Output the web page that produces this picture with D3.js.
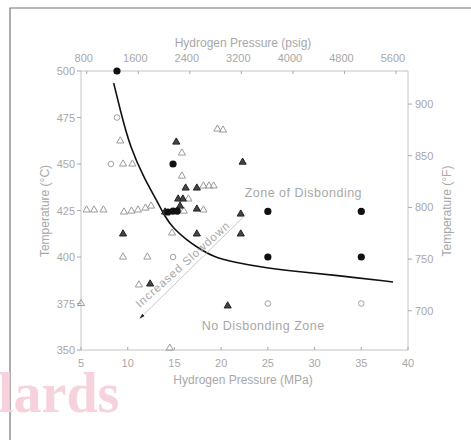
<!DOCTYPE html>
<meta charset="utf-8">
<html>
<head>
  <style>
    body { margin: 0; background: #fff; }
    text { font-family: "Liberation Sans", "DejaVu Sans", sans-serif; }
  </style>
</head>
<body>
  <svg id="chart" width="471" height="440"></svg>

  <script src="https://d3js.org/d3.v7.min.js"></script>
  <script>

    // ticks
    var mpaTicks = [5, 10, 15, 20, 25, 30, 35, 40]
    var psigTicks = [800, 1600, 2400, 3200, 4000, 4800, 5600]
    var degCTicks = [350, 375, 400, 425, 450, 475, 500]
    var degFTicks = [700, 750, 800, 850, 900]

    // test points [MPa, degC]
    var filledCircles = [[8.85, 500], [14.85, 450], [14.3, 424.2], [14.85, 424.7], [15.3, 424.7],
      [25, 424.5], [35, 424.5], [25, 400], [35, 400]]
    var openCircles = [[8.85, 475], [8.2, 450], [14.85, 400], [25, 375], [35, 375]]
    var filledTriangles = [[15.2, 461.8], [16.2, 437.1], [15.4, 431.2], [15.9, 431.2], [15.6, 427.4],
      [17.4, 425.8], [14.0, 424.2], [22.3, 451], [22.1, 423.1], [22.1, 412.4], [17.4, 412.4],
      [9.5, 412.4], [20.7, 373.7], [12.4, 385.5], [17.4, 437.1]]
    var openTriangles = [[9.2, 462.4], [9.5, 450], [10.5, 450], [19.6, 468.8], [20.2, 468.3],
      [15.8, 455.9], [15.8, 443.5], [18.1, 438.2], [18.7, 438.2], [19.2, 438.2], [16.5, 431.2],
      [18.1, 425.3], [5.6, 425.3], [6.4, 425.3], [7.4, 425.3], [9.6, 424.2], [10.4, 424.7],
      [11.1, 425.3], [11.9, 426.3], [12.5, 427.4], [16.0, 424.7], [14.75, 412.9], [9.5, 400],
      [12.1, 400], [11.2, 385], [5, 375], [14.5, 351]]

    // disbonding boundary curve
    var curve = [[8.5, 493.5], [9.2, 479], [10.25, 459], [11.85, 441.4], [13.1, 430.6], [14.0, 421.5],
      [14.85, 415.6], [16.35, 409], [17.4, 405.4], [19.1, 400.2], [21.3, 397.2], [24.9, 394],
      [28.45, 392], [32.0, 390.3], [38.4, 386.6]]

    var svg = d3.select("#chart")
    var grey = "#a8a8a8"

    var x = d3.scaleLinear().domain([5, 40]).range([81, 408])
    var y = d3.scaleLinear().domain([350, 500]).range([350, 71])
    var psigToMPa = function (p) { return (p + 14.7) * 0.00689476 }
    var fToC = function (f) { return (f - 32) * 5 / 9 }

    // scan frame
    svg.append("path").attr("d", "M10,440 V8 H471")
      .attr("fill", "none").attr("stroke", "#777").attr("stroke-width", 1.2)

    // watermark
    svg.append("text").attr("x", -2).attr("y", 412)
      .style("font-family", "'Liberation Serif', serif").style("font-weight", "bold")
      .style("font-size", "56px").style("fill", "#f6d3dc").text("lards")

    // axes
    var axisLine = function (x1, y1, x2, y2) {
      svg.append("line").attr("x1", x1).attr("y1", y1).attr("x2", x2).attr("y2", y2)
        .attr("stroke", "#c4c4c4").attr("stroke-width", 1)
    }
    axisLine(x(5), y(350), x(40), y(350))
    axisLine(x(5), y(500), x(40), y(500))
    axisLine(x(5), y(350), x(5), y(500))
    axisLine(x(40), y(350), x(40), y(500))

    // bottom ticks
    svg.selectAll("bt").data(mpaTicks).enter().append("line")
      .attr("x1", function (d) { return x(d) }).attr("x2", function (d) { return x(d) })
      .attr("y1", y(350)).attr("y2", y(350) - 3).attr("stroke", grey)
    svg.selectAll("bl").data(mpaTicks).enter().append("text")
      .attr("x", function (d) { return x(d) }).attr("y", y(350) + 17)
      .attr("text-anchor", "middle").style("font-size", "11px").style("fill", grey)
      .text(function (d) { return d })

    // top ticks
    svg.selectAll("tt").data(psigTicks).enter().append("line")
      .attr("x1", function (d) { return x(psigToMPa(d)) }).attr("x2", function (d) { return x(psigToMPa(d)) })
      .attr("y1", y(500)).attr("y2", y(500) + 3).attr("stroke", grey)
    svg.selectAll("tl").data(psigTicks).enter().append("text")
      .attr("x", function (d) { return x(psigToMPa(d)) - 3 }).attr("y", y(500) - 9)
      .attr("text-anchor", "middle").style("font-size", "11px").style("fill", grey)
      .text(function (d) { return d })

    // left ticks
    svg.selectAll("lt").data(degCTicks).enter().append("line")
      .attr("x1", x(5)).attr("x2", x(5) - 4)
      .attr("y1", function (d) { return y(d) }).attr("y2", function (d) { return y(d) }).attr("stroke", grey)
    svg.selectAll("ll").data(degCTicks).enter().append("text")
      .attr("x", x(5) - 6).attr("y", function (d) { return y(d) + 4 })
      .attr("text-anchor", "end").style("font-size", "11px").style("fill", grey)
      .text(function (d) { return d })

    // right ticks
    svg.selectAll("rt").data(degFTicks).enter().append("line")
      .attr("x1", x(40)).attr("x2", x(40) + 4)
      .attr("y1", function (d) { return y(fToC(d)) }).attr("y2", function (d) { return y(fToC(d)) }).attr("stroke", grey)
    svg.selectAll("rl").data(degFTicks).enter().append("text")
      .attr("x", x(40) + 7).attr("y", function (d) { return y(fToC(d)) + 4 })
      .style("font-size", "11px").style("fill", grey)
      .text(function (d) { return d })

    // axis titles
    svg.append("text").attr("x", 243).attr("y", 384).attr("text-anchor", "middle")
      .style("font-size", "12px").style("fill", grey).text("Hydrogen Pressure (MPa)")
    svg.append("text").attr("x", 243).attr("y", 47).attr("text-anchor", "middle")
      .style("font-size", "12px").style("fill", grey).text("Hydrogen Pressure (psig)")
    svg.append("text").attr("transform", "translate(49,211) rotate(-90)").attr("text-anchor", "middle")
      .style("font-size", "12px").style("fill", grey).text("Temperature (°C)")
    svg.append("text").attr("transform", "translate(451,211) rotate(-90)").attr("text-anchor", "middle")
      .style("font-size", "12px").style("fill", grey).text("Temperature (°F)")

    // boundary curve
    svg.append("path").datum(curve)
      .attr("fill", "none").attr("stroke", "#111").attr("stroke-width", 1.6)
      .attr("d", d3.line().x(function (d) { return x(d[0]) }).y(function (d) { return y(d[1]) }).curve(d3.curveBasis))

    // markers
    var tri = d3.symbol().type(d3.symbolTriangle).size(22)
    svg.selectAll("ot").data(openTriangles).enter().append("path")
      .attr("d", tri).attr("transform", function (d) { return "translate(" + x(d[0]) + "," + y(d[1]) + ")" })
      .attr("fill", "none").attr("stroke", "#9a9a9a").attr("stroke-width", 1)
    svg.selectAll("ft").data(filledTriangles).enter().append("path")
      .attr("d", tri).attr("transform", function (d) { return "translate(" + x(d[0]) + "," + y(d[1]) + ")" })
      .attr("fill", "#444").attr("stroke", "#222").attr("stroke-width", 1)
    svg.selectAll("oc").data(openCircles).enter().append("circle")
      .attr("cx", function (d) { return x(d[0]) }).attr("cy", function (d) { return y(d[1]) })
      .attr("r", 2.8).attr("fill", "none").attr("stroke", "#a0a0a0").attr("stroke-width", 1)
    svg.selectAll("fc").data(filledCircles).enter().append("circle")
      .attr("cx", function (d) { return x(d[0]) }).attr("cy", function (d) { return y(d[1]) })
      .attr("r", 3.6).attr("fill", "#111")

    // zone labels
    svg.append("text").attr("x", x(28.8)).attr("y", y(432.5)).attr("text-anchor", "middle")
      .style("font-size", "12.5px").style("fill", grey).style("letter-spacing", "0.5px").text("Zone of Disbonding")
    svg.append("text").attr("x", x(24.5)).attr("y", y(360.5)).attr("text-anchor", "middle")
      .style("font-size", "12.5px").style("fill", grey).style("letter-spacing", "0.5px").text("No Disbonding Zone")

    // increased slowdown arrow
    var arrowFrom = [22.6, 422.6], arrowTo = [11.3, 367]
    svg.append("defs").append("marker").attr("id", "head")
      .attr("viewBox", "0 0 10 10").attr("refX", 9).attr("refY", 5)
      .attr("markerWidth", 7).attr("markerHeight", 7).attr("orient", "auto")
      .append("path").attr("d", "M0,2 L10,5 L0,8 z").attr("fill", "#222")
    svg.append("line")
      .attr("x1", x(arrowFrom[0])).attr("y1", y(arrowFrom[1]))
      .attr("x2", x(arrowTo[0])).attr("y2", y(arrowTo[1]))
      .attr("stroke", "#bbb").attr("stroke-width", 0.8).attr("marker-end", "url(#head)")
    svg.append("text")
      .attr("transform", "translate(" + (x(16.4) - 2) + "," + (y(394.5)) + ") rotate(-42)")
      .attr("text-anchor", "middle").style("font-size", "11.5px").style("fill", grey)
      .style("letter-spacing", "0.9px").text("Increased Slowdown")

  </script>
</body>
</html>
